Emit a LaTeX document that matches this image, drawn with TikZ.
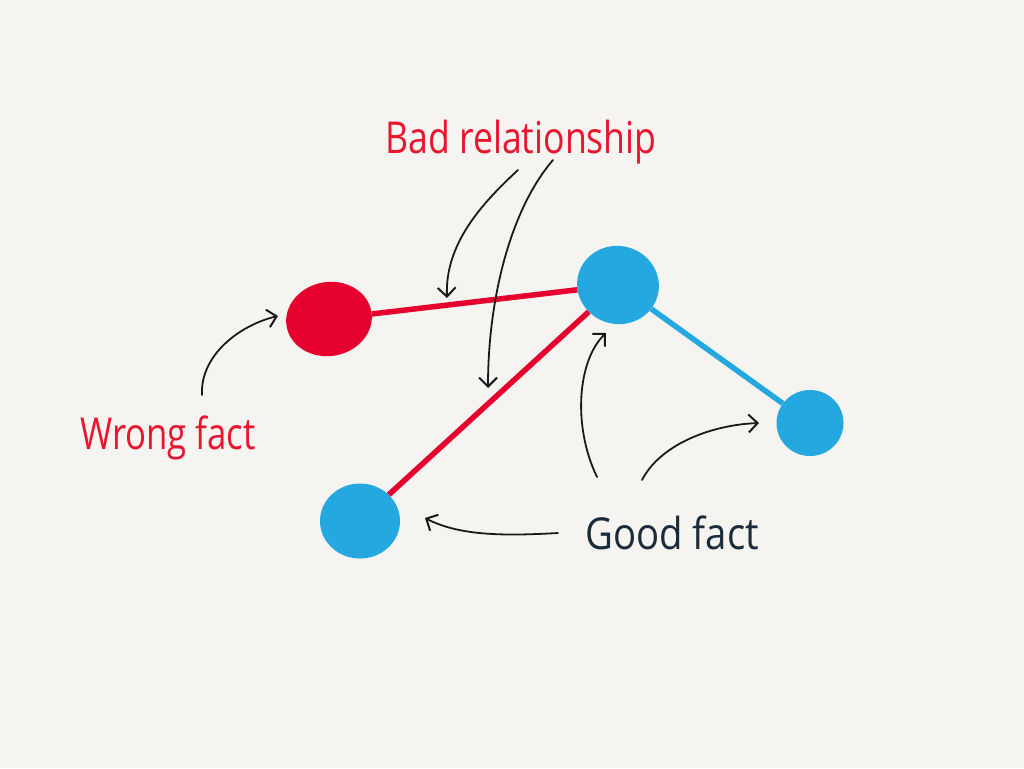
\documentclass[tikz,border=0pt]{standalone}
\usepackage{fontspec}
\setmainfont{Open Sans}
\usepackage{graphicx}
\usetikzlibrary{shapes.geometric,arrows.meta}
\definecolor{bg}{HTML}{F5F4F1}
\definecolor{fred}{HTML}{E6002D}
\definecolor{fblue}{HTML}{25A8E0}
\definecolor{tred}{HTML}{E8162E}
\definecolor{tnavy}{HTML}{1C2B3A}
\definecolor{ink}{HTML}{1A1A1A}
\tikzset{
  fact/.style={ellipse, inner sep=0pt, draw=none},
  redfact/.style={fact, fill=fred},
  bluefact/.style={fact, fill=fblue},
  badrel/.style={draw=fred, line width=5.5pt},
  goodrel/.style={draw=fblue, line width=5.5pt},
  note/.style={draw=ink, line width=1.8pt, line cap=round, -{Straight Barb[length=9pt,width=18pt,line width=2pt]}},
  label/.style={inner sep=0pt, font=\fontsize{44}{48}\selectfont},
}
\begin{document}
\begin{tikzpicture}[x=1pt,y=-1pt]
\useasboundingbox (0,0) rectangle (1024,768);
\fill[bg] (0,0) rectangle (1024,768);

% fact nodes
\node[redfact, minimum width=86pt, minimum height=74pt, rotate=10] (wrong) at (329,319) {};
\node[bluefact, minimum width=82pt, minimum height=78pt, rotate=-15] (top) at (618,285) {};
\node[bluefact, minimum width=67pt, minimum height=66pt] (right) at (810,423) {};
\node[bluefact, minimum width=80pt, minimum height=75pt] (bl) at (360,521) {};

% relationships
\draw[badrel] (wrong) -- (top);
\draw[badrel] (top) -- (bl);
\draw[goodrel] (top) -- (right);

% labels
\node[label, text=tred] (badlbl) at (521,142) {\scalebox{0.81}[1]{Bad relationship}};
\node[label, text=tred] (wronglbl) at (168,438) {\scalebox{0.79}[1]{Wrong fact}};
\node[label, text=tnavy] (goodlbl) at (672,533) {\scalebox{0.87}[1]{Good fact}};

% arrow end points
\coordinate (b1s) at (518,170);
\coordinate (b1e) at (447,298);
\coordinate (b2s) at (553,160);
\coordinate (b2e) at (488,388);
\coordinate (ws) at (202,395);
\coordinate (we) at (278,316);
\coordinate (g1s) at (597,477);
\coordinate (g1e) at (606,333);
\coordinate (g2s) at (642,480);
\coordinate (g2e) at (759,423);
\coordinate (g3s) at (558,533);
\coordinate (g3e) at (425,518);

% annotation arrows
\draw[note] (b1s) .. controls (480,205) and (445,245) .. (b1e);
\draw[note] (b2s) .. controls (510,210) and (488,300) .. (b2e);
\draw[note] (ws) .. controls (200,355) and (240,325) .. (we);
\draw[note] (g1s) .. controls (572,425) and (578,360) .. (g1e);
\draw[note] (g2s) .. controls (660,445) and (710,425) .. (g2e);
\draw[note] (g3s) .. controls (505,536) and (460,536) .. (g3e);
\end{tikzpicture}
\end{document}
